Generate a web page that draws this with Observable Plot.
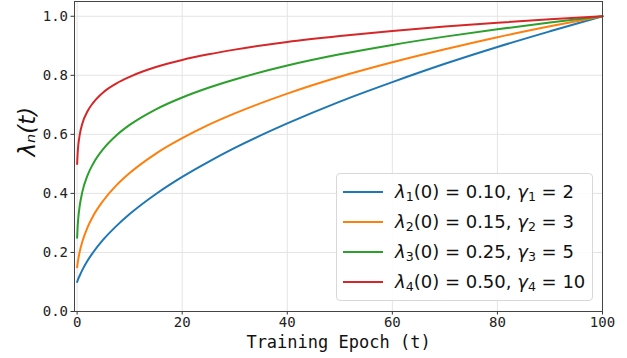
<!DOCTYPE html>
<html>
<head>
<meta charset="utf-8">
<script src="https://cdn.jsdelivr.net/npm/d3@7"></script>
<script src="https://cdn.jsdelivr.net/npm/@observablehq/plot@0.6"></script>
<style>
  html, body { margin: 0; padding: 0; background: white; }
  #wrap { position: relative; width: 627px; height: 358px; }
  #legend { position: absolute; left: 336px; top: 173px; width: 257px; height: 128px; box-sizing: border-box;
    border: 1px solid #d8d8d8; border-radius: 4px; background: rgba(255,255,255,0.85); padding-top: 3px;
    font-family: "DejaVu Sans", sans-serif; font-size: 18px; color: #111; }
  .row { position: relative; height: 30px; line-height: 30px; white-space: nowrap; }
  .sw { position: absolute; left: 6px; top: 14px; width: 40px; height: 2px; }
  .lab { position: absolute; left: 58px; top: 0; }
  .lab sub { font-size: 0.7em; vertical-align: -0.25em; line-height: 0; }
  .lab i { font-style: italic; }
</style>
</head>
<body>
<div id="wrap"></div>
<script>
// Training epochs (x) at which the curves were read
const epochs  = [0, 0.1, 0.25, 0.5, 1, 2, 3, 5, 7.5, 10, 15, 20, 25, 30, 40, 50, 60, 70, 80, 90, 100];
// λ_n(t) values
const lambda1 = [0.100, 0.105, 0.112, 0.122, 0.141, 0.173, 0.199, 0.244, 0.290, 0.330, 0.398, 0.456, 0.507, 0.554, 0.637, 0.711, 0.777, 0.839, 0.896, 0.949, 1.000];
const lambda2 = [0.150, 0.164, 0.180, 0.203, 0.237, 0.286, 0.322, 0.376, 0.428, 0.469, 0.535, 0.587, 0.632, 0.671, 0.738, 0.795, 0.844, 0.888, 0.929, 0.966, 1.000];
const lambda3 = [0.250, 0.288, 0.322, 0.359, 0.406, 0.462, 0.499, 0.551, 0.597, 0.632, 0.685, 0.725, 0.758, 0.786, 0.833, 0.871, 0.903, 0.931, 0.956, 0.979, 1.000];
const lambda4 = [0.500, 0.537, 0.568, 0.599, 0.637, 0.679, 0.706, 0.743, 0.773, 0.795, 0.828, 0.852, 0.871, 0.887, 0.913, 0.933, 0.950, 0.965, 0.978, 0.990, 1.000];
// Legend parameters
const seriesIdx = [1, 2, 3, 4];
const lambda0   = ["0.10", "0.15", "0.25", "0.50"];
const gammas    = ["2", "3", "5", "10"];
const colors    = ["#1f77b4", "#ff7f0e", "#2ca02c", "#d62728"];
// Axis ticks
const xTicks = [0, 20, 40, 60, 80, 100];
const yTicks = [0, 0.2, 0.4, 0.6, 0.8, 1.0];

const series = [lambda1, lambda2, lambda3, lambda4];
const rows = [];
series.forEach((vals, k) => epochs.forEach((t, i) => rows.push({t, v: vals[i], s: "s" + seriesIdx[k]})));

const chart = Plot.plot({
  width: 627, height: 358,
  marginLeft: 74, marginRight: 25, marginTop: 1, marginBottom: 47,
  x: {domain: [-0.5, 100]},
  y: {domain: [0, 1.05]},
  color: {domain: seriesIdx.map(i => "s" + i), range: colors},
  style: {fontFamily: "'DejaVu Sans Mono', monospace", fontSize: "14px", color: "#222", background: "white"},
  marks: [
    Plot.gridX(xTicks, {stroke: "#e4e4e4", strokeOpacity: 1}),
    Plot.gridY(yTicks, {stroke: "#e4e4e4", strokeOpacity: 1}),
    Plot.axisX({ticks: xTicks, tickSize: 3.5, tickPadding: 2, tickFormat: d => String(d), label: null, stroke: "#333"}),
    Plot.axisY({ticks: yTicks, tickSize: 3.5, tickPadding: 3, tickFormat: d => d.toFixed(1), label: null, stroke: "#333"}),
    Plot.line(rows, {x: "t", y: "v", z: "s", stroke: "s", strokeWidth: 2, curve: "monotone-x"}),
    Plot.frame({stroke: "#444"}),
    Plot.text(["Training Epoch (t)"], {frameAnchor: "bottom", dy: 36, text: d => d, fontSize: 17, fill: "#111"}),
    Plot.text(["λₙ(t)"], {frameAnchor: "left", dx: -47, rotate: -90, text: d => d, fontSize: 23, fontStyle: "italic", fontFamily: "DejaVu Sans", fill: "#111"})
  ]
});
const wrap = document.getElementById("wrap");
wrap.appendChild(chart);

const leg = document.createElement("div");
leg.id = "legend";
seriesIdx.forEach((n, k) => {
  const r = document.createElement("div");
  r.className = "row";
  r.innerHTML = `<span class="sw" style="background:${colors[k]}"></span>` +
    `<span class="lab"><i>λ</i><sub>${n}</sub>(0) = ${lambda0[k]}, <i>γ</i><sub>${n}</sub> = ${gammas[k]}</span>`;
  leg.appendChild(r);
});
wrap.appendChild(leg);
</script>
</body>
</html>
